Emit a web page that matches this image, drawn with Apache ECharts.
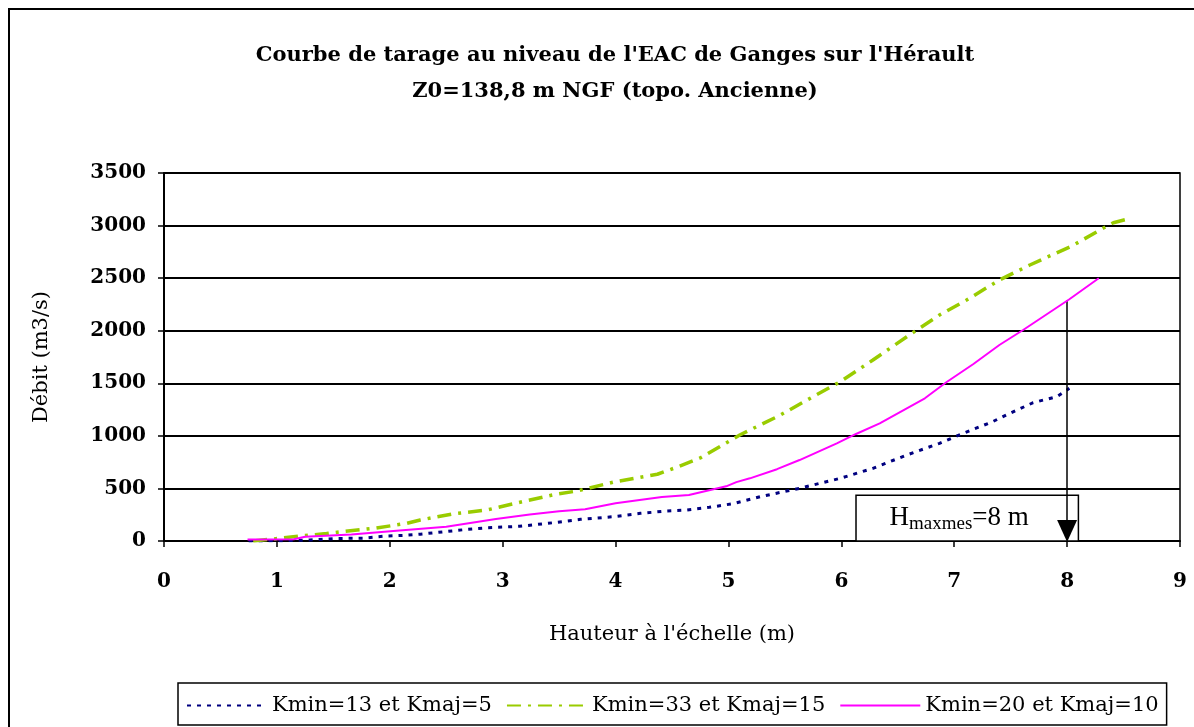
<!DOCTYPE html>
<html>
<head>
<meta charset="utf-8">
<title>Courbe de tarage - Ganges</title>
<script src="https://cdn.jsdelivr.net/npm/echarts@6/dist/echarts.min.js"></script>
<style>
  html, body { margin: 0; padding: 0; background: #fff; overflow: hidden; }
  #frame {
    position: absolute; left: 8px; top: 8px; width: 1300px; height: 800px;
    border: 2px solid #000; box-sizing: border-box;
  }
  #chart { position: absolute; left: 0; top: 0; width: 1194px; height: 727px; }
</style>
</head>
<body>
<div id="frame"></div>
<div id="chart"></div>
<script>
// Hauteur (m) / Débit (m3/s)
const kmin13X = [0.75, 1.0, 1.29, 1.53, 1.77, 1.94, 2.15, 2.27, 2.47, 2.68, 2.86, 3.15, 3.45, 3.69, 3.98, 4.22, 4.45, 4.63, 4.83, 5.04, 5.28, 5.63, 5.99, 6.28, 6.58, 6.87, 7.08, 7.34, 7.46, 7.70, 7.91, 8.02];
const kmin13Y = [0, 2, 10, 24, 27, 45, 55, 65, 87, 110, 125, 140, 174, 206, 231, 263, 285, 295, 320, 355, 421, 501, 596, 691, 818, 929, 1024, 1135, 1198, 1316, 1373, 1452];

const kmin33X = [0.79, 1.03, 1.21, 1.44, 1.56, 1.88, 2.15, 2.27, 2.56, 2.86, 3.18, 3.46, 3.66, 3.98, 4.37, 4.55, 4.75, 5.10, 5.46, 5.75, 5.99, 6.28, 6.58, 6.87, 7.11, 7.40, 7.67, 8.05, 8.29, 8.41, 8.53];
const kmin33Y = [0, 26, 48, 71, 87, 123, 168, 200, 258, 295, 375, 442, 476, 560, 635, 705, 790, 1008, 1198, 1373, 1515, 1721, 1943, 2150, 2292, 2482, 2625, 2810, 2958, 3027, 3060];

const kmin20X = [0.74, 1.15, 1.25, 1.66, 2.06, 2.50, 2.94, 3.24, 3.50, 3.73, 4.0, 4.41, 4.65, 4.98, 5.07, 5.19, 5.43, 5.63, 5.96, 6.13, 6.34, 6.74, 6.93, 7.17, 7.40, 7.61, 8.02, 8.28];
const kmin20Y = [14, 16, 40, 62, 97, 135, 210, 252, 282, 302, 360, 419, 438, 520, 560, 596, 683, 770, 929, 1018, 1119, 1357, 1510, 1683, 1864, 2007, 2299, 2499];

const seriesNames = ["Kmin=13 et Kmaj=5", "Kmin=33 et Kmaj=15", "Kmin=20 et Kmaj=10"];

// annotation: H maxmes = 8 m
const hMax = 8;
const arrowTop = 2290;
const arrowEnd = 95;
const boxX = [6.13, 8.1];
const boxY = [0, 435];

const FONT = "DejaVu Serif";

function pairs(xs, ys) {
  return xs.map((x, i) => [x, ys[i]]);
}

const chart = echarts.init(document.getElementById("chart"));

const option = {
  animation: false,
  title: {
    text: "Courbe de tarage au niveau de l'EAC de Ganges sur l'Hérault\nZ0=138,8 m NGF (topo. Ancienne)",
    left: 610,
    top: 33,
    textAlign: "center",
    textStyle: {
      fontFamily: FONT,
      fontSize: 21,
      fontWeight: "bold",
      color: "#000",
      lineHeight: 36,
    },
  },
  grid: {
    left: 164,
    right: 14,
    top: 173,
    bottom: 186,
    show: true,
    borderColor: "#000",
    borderWidth: 1.5,
  },
  legend: {
    left: 178,
    top: 683,
    itemWidth: 80,
    itemHeight: 14,
    itemGap: 14,
    padding: [12, 8, 9, 8],
    borderColor: "#000",
    borderWidth: 1.5,
    itemStyle: { opacity: 0 },
    textStyle: { fontFamily: FONT, fontSize: 21, color: "#000" },
    data: seriesNames,
  },
  xAxis: {
    type: "value",
    min: 0,
    max: 9,
    interval: 1,
    name: "Hauteur à l'échelle (m)",
    nameLocation: "middle",
    nameGap: 83,
    nameTextStyle: { fontFamily: FONT, fontSize: 21, color: "#000" },
    axisLine: { lineStyle: { color: "#000", width: 2 } },
    axisTick: { lineStyle: { color: "#000", width: 1.5 }, length: 6 },
    axisLabel: { fontFamily: FONT, fontSize: 20, fontWeight: "bold", color: "#000", margin: 31 },
    splitLine: { show: false },
  },
  yAxis: {
    type: "value",
    min: 0,
    max: 3500,
    interval: 500,
    name: "Débit (m3/s)",
    nameLocation: "middle",
    nameGap: 112,
    nameTextStyle: { fontFamily: FONT, fontSize: 21, color: "#000" },
    axisLine: { show: true, lineStyle: { color: "#000", width: 2 } },
    axisTick: { show: true, lineStyle: { color: "#000", width: 1.5 }, length: 6 },
    axisLabel: {
      fontFamily: FONT,
      fontSize: 20,
      fontWeight: "bold",
      color: "#000",
      margin: 18,
      formatter: function (value) {
        return String(value);
      },
    },
    splitLine: { show: true, lineStyle: { color: "#000", width: 2 } },
  },
  series: [
    {
      name: seriesNames[0],
      type: "line",
      symbol: "none",
      data: pairs(kmin13X, kmin13Y),
      lineStyle: { color: "#000080", width: 3, type: [4, 6] },
      itemStyle: { color: "#000080" },
      z: 3,
      markArea: {
        silent: true,
        itemStyle: { color: "#fff", borderColor: "#000", borderWidth: 1.5 },
        label: {
          show: true,
          position: "inside",
          offset: [-8, 0],
          formatter: "{h|H}{s|maxmes}{h|=8 m}",
          rich: {
            h: { fontFamily: "Liberation Serif", fontSize: 27, color: "#000" },
            s: { fontFamily: "Liberation Serif", fontSize: 19, color: "#000", padding: [11, 0, 0, 0] },
          },
        },
        data: [[{ coord: [boxX[0], boxY[1]] }, { coord: [boxX[1], boxY[0]] }]],
      },
      markLine: {
        silent: true,
        symbol: ["none", "triangle"],
        symbolSize: [20, 22],
        label: { show: false },
        lineStyle: { color: "#000", width: 1.5, type: "solid" },
        data: [[{ coord: [hMax, arrowTop] }, { coord: [hMax, arrowEnd] }]],
      },
    },
    {
      name: seriesNames[1],
      type: "line",
      symbol: "none",
      data: pairs(kmin33X, kmin33Y),
      lineStyle: { color: "#99CC00", width: 3.5, type: [14, 7, 3, 7] },
      itemStyle: { color: "#99CC00" },
      z: 4,
    },
    {
      name: seriesNames[2],
      type: "line",
      symbol: "none",
      data: pairs(kmin20X, kmin20Y),
      lineStyle: { color: "#FF00FF", width: 2 },
      itemStyle: { color: "#FF00FF" },
      z: 5,
    },
  ],
};

chart.setOption(option);
</script>
</body>
</html>
